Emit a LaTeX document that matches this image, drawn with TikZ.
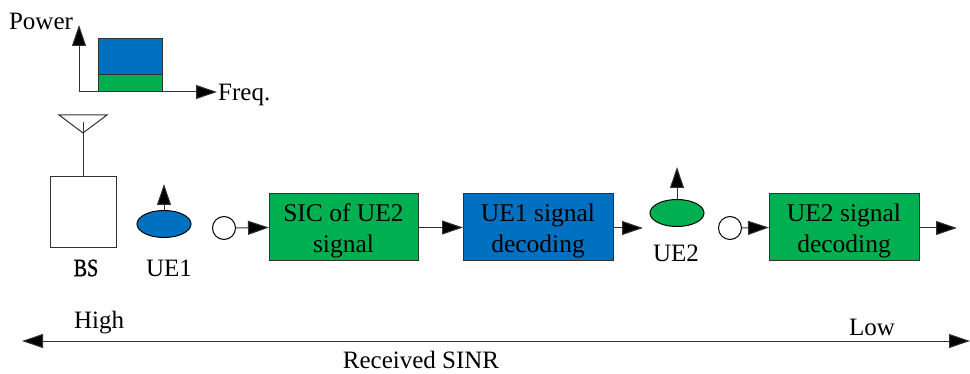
\documentclass[tikz,border=0pt]{standalone}
\usepackage{fontspec}
\setmainfont{Liberation Serif}
\usetikzlibrary{arrows.meta,shapes.geometric}
\definecolor{bblue}{HTML}{0070C0}
\definecolor{bgreen}{HTML}{00B050}
\newcommand{\tstrut}{\rule{0pt}{24pt}}
\tikzset{
  conn/.style={line width=1pt,draw=black!80,-{Triangle[length=21pt,width=14pt,fill=black]}},
  plain/.style={line width=1pt,draw=black!80},
  blockbox/.style={draw=black!80,line width=1pt,minimum width=150pt,minimum height=67pt,inner sep=0pt,outer sep=0pt,align=center,font=\fontsize{25.5}{31}\selectfont},
  ue/.style={ellipse,draw=black,line width=1pt,minimum width=54pt,minimum height=27pt,inner sep=0pt,outer sep=0pt},
  rx/.style={circle,draw=black,line width=1pt,minimum size=23pt,inner sep=0pt,outer sep=0pt,fill=white},
  lbl/.style={inner sep=0pt,font=\fontsize{25}{30}\selectfont},
  band/.style={draw=black!80,line width=1pt,inner sep=0pt,outer sep=0pt,minimum width=64pt,anchor=north west},
}
\begin{document}
\begin{tikzpicture}[x=1pt,y=-1pt]
\useasboundingbox (0,0) rectangle (970,374);
% spectrum
\coordinate (orig) at (79,92);
\coordinate (ytip) at (79,25);
\coordinate (xtip) at (217,92);
\node[band,fill=bblue,minimum height=36pt] (pblue) at (98,39) {};
\node[band,fill=bgreen,minimum height=17pt] (pgreen) at (98,75) {};
\draw[conn] (orig) -- (ytip);
\draw[conn] (orig) -- (xtip);
\node[lbl,anchor=center] (power) at (41,21) {Power};
\node[lbl,anchor=west] (freq) at (218,95) {Freq.};
% base station
\node[draw=black!80,line width=1pt,minimum width=66pt,minimum height=71pt,inner sep=0pt,outer sep=0pt] (bs) at (83,212) {};
\coordinate (a1) at (59,115);
\coordinate (a2) at (107,115);
\coordinate (a3) at (83,133);
\coordinate (a4) at (83,122);
\draw[plain] (a1) -- (a2) -- (a3) -- cycle;
\draw[plain] (a4) -- (bs.north);
\node[lbl] (bslabel) at (86,268) {\addfontfeature{FakeBold=1}\scalebox{.8}[1]{BS}};
% UE1
\node[ue,fill=bblue] (ue1) at (164,224) {};
\coordinate (ue1tip) at (164,184);
\draw[conn] (ue1.north) -- (ue1tip);
\node[lbl] (ue1label) at (169,268) {UE1};
% chain
\node[rx] (c1) at (224,228) {};
\node[blockbox,fill=bgreen,minimum width=149pt] (sic) at (343.5,227.5) {\tstrut SIC of UE2\\signal};
\node[blockbox,fill=bblue] (dec1) at (538,227.5) {\tstrut UE1 signal\\decoding};
\node[ue,fill=bgreen] (ue2) at (677,213) {};
\coordinate (ue2tip) at (677,167);
\draw[conn] (ue2.north) -- (ue2tip);
\node[lbl] (ue2label) at (676,253) {UE2};
\coordinate (d1out) at (643,228);
\node[rx] (c2) at (730,228) {};
\node[blockbox,fill=bgreen] (dec2) at (844,227.5) {\tstrut UE2 signal\\decoding};
\coordinate (d2out) at (957,228);
\draw[conn] (c1) ++(11.5,0) -- (sic.west);
\draw[conn] (sic.east) -- (dec1.west);
\draw[conn] (dec1.east |- d1out) -- (d1out);
\draw[conn] (c2) ++(11.5,0) -- (dec2.west);
\draw[conn] (dec2.east |- d2out) -- (d2out);
% SINR axis
\coordinate (sl) at (22,341);
\coordinate (sr) at (970,341);
\draw[line width=1pt,draw=black!80,{Triangle[length=21pt,width=14pt,fill=black]}-{Triangle[length=21pt,width=14pt,fill=black]}] (sl) -- (sr);
\node[lbl] (high) at (99,323) {High};
\node[lbl] (low) at (872,327) {Low};
\node[lbl] (sinr) at (421,360) {Received SINR};
\end{tikzpicture}
\end{document}
